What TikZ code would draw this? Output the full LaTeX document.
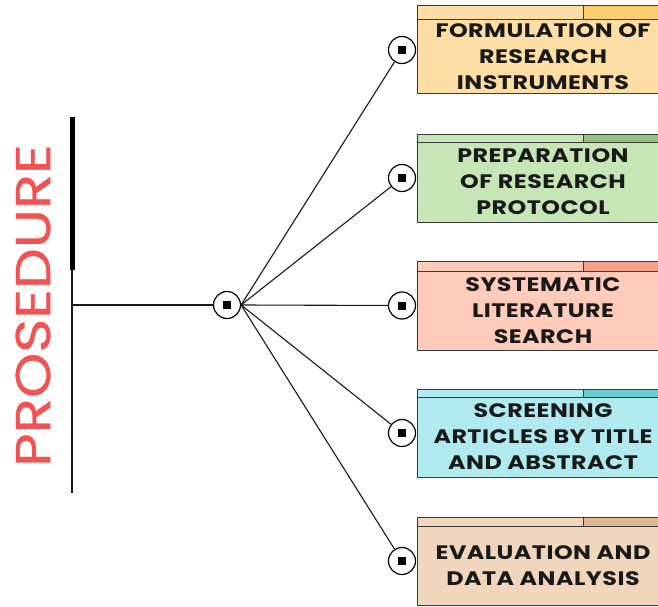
\documentclass[tikz,border=0pt]{standalone}
\usepackage{fontspec}
\setmainfont{Poppins}
\newfontfamily\stepfont{Poppins}[FakeStretch=1.22, LetterSpace=2.5]
\newfontfamily\titlefont{Poppins}[FakeStretch=1.18, FakeBold=0.6]
\usetikzlibrary{positioning,calc}
\definecolor{titlered}{HTML}{F25252}
\definecolor{boxedge}{HTML}{3A3A3A}
\definecolor{orgA}{HTML}{FEDEA4}\definecolor{orgB}{HTML}{FFCD6E}
\definecolor{grnA}{HTML}{C6E6B6}\definecolor{grnB}{HTML}{92C47E}
\definecolor{salA}{HTML}{FFCBBB}\definecolor{salB}{HTML}{F5A088}
\definecolor{cyaA}{HTML}{B0EAEE}\definecolor{cyaB}{HTML}{6CCDD2}
\definecolor{tanA}{HTML}{F0D6BC}\definecolor{tanB}{HTML}{DDB58F}
\tikzstyle{boxline}=[draw=boxedge, line width=1pt]
\tikzstyle{steptext}=[align=center, inner sep=0pt, text=black!90,
 font=\stepfont\fontsize{19.5}{26}\selectfont\bfseries]
\tikzstyle{dotcircle}=[circle, draw=black, line width=1.2pt, fill=white, minimum size=27pt, inner sep=0pt]
\tikzstyle{line}=[-, line width=1.1pt, black!90]
% #1 name, #2 top, #3 strip bottom, #4 bottom, #5 fill, #6 strip fill, #7 text
\newcommand\procbox[7]{
  \draw[boxline, fill=#5] (417,#2) rectangle (669,#4);
  \draw[boxline, fill=#6] (583,#2) rectangle (669,#3);
  \draw[boxline] (417,#3) -- (669,#3);
  \node (#1) [steptext] at (543,{(#3+#4)/2}) {#7};
  \node (#1c) [dotcircle] at (402,{(#2+#4)/2}) {\rule{8pt}{8pt}};
}

\begin{document}
\begin{tikzpicture}[x=1pt, y=-1pt]
  \clip (0,0) rectangle (658,607);
  \fill[white] (0,0) rectangle (658,607);

  \node (title) [rotate=90, text=titlered, font=\titlefont\fontsize{49}{49}\selectfont] at (33,305.5) {PROSEDURE};

  \coordinate (vtop) at (72,117);
  \coordinate (vsplit) at (72,270);
  \coordinate (vmid) at (72,305);
  \coordinate (vbot) at (72,493);
  \node (hub) [dotcircle] at (227,305) {\rule{8pt}{8pt}};

  \procbox{instr}{6}{20}{94}{orgA}{orgB}{FORMULATION OF\\RESEARCH\\INSTRUMENTS}
  \procbox{proto}{134}{142}{222}{grnA}{grnB}{PREPARATION\\OF RESEARCH\\PROTOCOL}
  \procbox{search}{261}{271}{350}{salA}{salB}{SYSTEMATIC\\LITERATURE\\SEARCH}
  \procbox{screen}{389}{397}{477}{cyaA}{cyaB}{SCREENING\\ARTICLES BY TITLE\\AND ABSTRACT}
  \procbox{eval}{517}{526}{605}{tanA}{tanB}{EVALUATION AND\\DATA ANALYSIS}

%bar on the left
  \draw[line] (vtop) -- (vbot);
  \draw[line width=5pt] (vtop) -- (vsplit);
  \draw[line] (vmid) -- (hub);

%fan out to the steps
  \draw[line] (hub.east) -- (instrc);
  \draw[line] (hub.east) -- (protoc);
  \draw[line] (hub.east) -- (searchc);
  \draw[line] (hub.east) -- (screenc);
  \draw[line] (hub.east) -- (evalc);

\end{tikzpicture}
\end{document}
